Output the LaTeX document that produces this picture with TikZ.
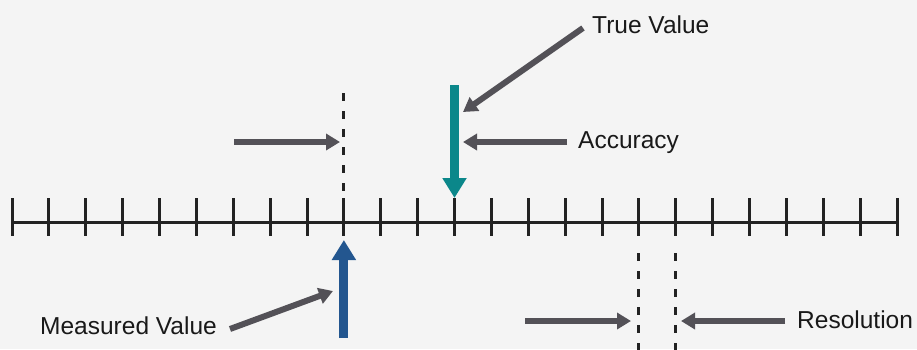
\documentclass[tikz,border=0pt]{standalone}
\usepackage{fontspec}
\setmainfont{Liberation Sans}
\usepackage{xcolor}
\usepackage{tikz}
\usetikzlibrary{arrows.meta}
\usetikzlibrary{positioning}
\definecolor{hintergrund}{HTML}{F4F4F4}
\definecolor{zeigergrau}{HTML}{535157}
\definecolor{truecol}{HTML}{0B878A}
\definecolor{meascol}{HTML}{23568F}
\definecolor{skalacol}{HTML}{222222}
\tikzset{
  Zeiger/.style={line width=6pt,draw=zeigergrau,-{Triangle[length=14pt,width=16pt]}}, % graue Hinweispfeile
  Wert/.style={line width=9pt,draw=#1,-{Triangle[length=20pt,width=23pt]}}, % Wertpfeile
  Hilfslinie/.style={line width=2.8pt,draw=skalacol,dash pattern=on 8pt off 10pt},
  Skala/.style={line width=3pt,draw=skalacol},
  Beschriftung/.style={font=\fontsize{24.5}{28}\selectfont,text=black!90,inner sep=0pt,anchor=base west}
}

\begin{document}
\begin{tikzpicture}[x=1pt,y=-1pt]
\fill[hintergrund] (0,0) rectangle (917,349);
\useasboundingbox (0,0) rectangle (917,349);

%Skala
\foreach \i in {0,...,24}
  \coordinate (T\i) at (12+\i*36.875,222);
\draw[Skala] (T0) -- (T24);
\foreach \i in {0,...,24}
  \draw[Skala] (T\i) ++(0,-24) -- ++(0,38);

%Beschriftungen
\node[Beschriftung] (true) at (592,33) {True Value};
\node[Beschriftung] (acc) at (578,148) {Accuracy};
\node[Beschriftung] (meas) at (40,334) {Measured Value};
\node[Beschriftung] (res) at (797,328) {Resolution};

%Wertpfeile
\coordinate (TrueTop) at (T12 |- 0,85);
\coordinate (TrueTip) at (T12 |- 0,198);
\draw[Wert=truecol] (TrueTop) -- (TrueTip);
\coordinate (MeasBot) at (T9 |- 0,338);
\coordinate (MeasTip) at (T9 |- 0,240);
\draw[Wert=meascol] (MeasBot) -- (MeasTip);

%Hilfslinien
\draw[Hilfslinie] (T9 |- 0,93) -- (T9 |- 0,191);
\draw[Hilfslinie] (T17 |- 0,253) -- (T17 |- 0,352);
\draw[Hilfslinie] (T18 |- 0,253) -- (T18 |- 0,352);

%Hinweispfeile
\coordinate (TrueHit) at (463,112);
\coordinate (AccR) at (463,142);
\coordinate (AccLTail) at (234,142);
\coordinate (AccL) at (340,142);
\coordinate (MeasHit) at (333,291);
\coordinate (ResLTail) at (525,321);
\coordinate (ResL) at (631,321);
\coordinate (ResR) at (681,321);
\draw[Zeiger] ([xshift=-9pt,yshift=5pt]true.base west) -- (TrueHit);
\draw[Zeiger] ([xshift=-11pt,yshift=6pt]acc.base west) -- (AccR);
\draw[Zeiger] (AccLTail) -- (AccL);
\draw[Zeiger] ([xshift=13pt,yshift=5pt]meas.base east) -- (MeasHit);
\draw[Zeiger] (ResLTail) -- (ResL);
\draw[Zeiger] ([xshift=-12pt,yshift=7pt]res.base west) -- (ResR);
\end{tikzpicture}
\end{document}
